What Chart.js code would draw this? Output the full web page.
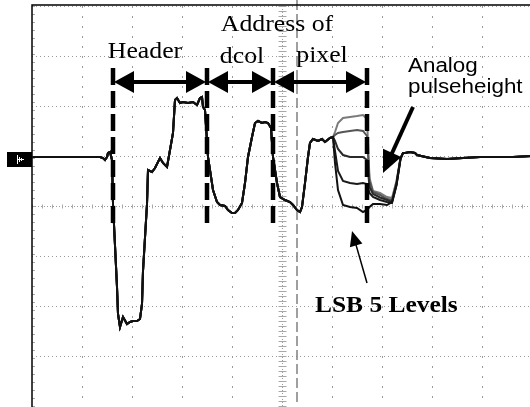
<!DOCTYPE html>
<html>
<head>
<meta charset="utf-8">
<script src="https://cdn.jsdelivr.net/npm/chart.js@4"></script>
<style>
	html, body { margin: 0; padding: 0; background: #fff; overflow: hidden; }
	#wrap { width: 540px; height: 407px; }
</style>
</head>
<body>
<div id="wrap"><canvas id="scopeChart" width="540" height="407"></canvas></div>
<script>
// time in divisions (0..10), signal in divisions (-4..4, 0 = centre line)
const startTime = [0, 0.56, 1.16, 1.26, 1.36, 1.42, 1.46, 1.50, 1.52, 1.56, 1.60,
	1.62, 1.70, 1.72, 1.76, 1.82, 1.90, 1.96, 2.02, 2.10, 2.16, 2.20, 2.22, 2.30,
	2.32, 2.40, 2.46, 2.56, 2.62, 2.70, 2.76, 2.82, 2.86, 2.90, 2.96, 3.02, 3.12,
	3.22, 3.30, 3.36, 3.40, 3.42, 3.46, 3.52, 3.62, 3.70, 3.76, 3.86, 3.92, 4.00,
	4.06, 4.12, 4.20, 4.26, 4.32, 4.40, 4.46, 4.52, 4.60, 4.66, 4.72, 4.78, 4.82,
	4.90, 4.96, 5.06, 5.16, 5.22, 5.30, 5.36, 5.40, 5.46, 5.52, 5.56, 5.62, 5.72,
	5.80, 5.86, 5.96, 6.02];
const startVolt = [0.98, 0.98, 0.98, 0.98, 0.98, 0.96, 0.92, 0.98, 1.06, 1.08, 0.92,
	0.04, -1.62, -2.16, -2.42, -2.22, -2.36, -2.32, -2.30, -2.30, -2.26, -1.96, -1.30, 0.04,
	0.72, 0.68, 0.76, 0.96, 0.86, 0.78, 1.12, 1.46, 2.12, 2.16, 2.06, 2.08, 2.06,
	2.08, 2.02, 2.16, 2.18, 1.98, 1.92, 0.98, 0.32, 0.08, 0.02, 0.00, -0.08, -0.14,
	-0.14, -0.08, 0.06, 0.46, 0.98, 1.38, 1.66, 1.70, 1.66, 1.68, 1.66, 1.56, 0.98,
	0.46, 0.18, 0.12, 0.08, 0.02, -0.08, -0.12, -0.02, 0.46, 0.98, 1.26, 1.34, 1.30,
	1.34, 1.28, 1.36, 1.38];

// the five analog levels of the last pixel
const fanTime = [6.06, 6.12, 6.22, 6.36, 6.50, 6.62, 6.70, 6.75, 6.82, 6.96, 7.10, 7.20, 7.29, 7.37];
const level1 = [1.48, 1.66, 1.76, 1.78, 1.80, 1.82, 1.74, 0.56, 0.30, 0.26, 0.18, 0.16, 0.50, 0.96];
const level2 = [1.42, 1.46, 1.48, 1.50, 1.52, 1.50, 1.40, 0.50, 0.28, 0.22, 0.14, 0.12, 0.48, 0.96];
const level3 = [1.30, 1.14, 1.02, 0.98, 0.98, 0.98, 0.92, 0.38, 0.24, 0.17, 0.12, 0.08, 0.44, 0.96];
const level4 = [1.10, 0.70, 0.50, 0.46, 0.44, 0.46, 0.44, 0.26, 0.18, 0.12, 0.08, 0.06, 0.42, 0.94];
const level5 = [0.86, 0.32, 0.02, -0.02, -0.04, -0.12, -0.08, -0.02, 0.04, 0.04, 0.02, 0.08, 0.42, 0.94];

const endTime = [7.42, 7.46, 7.56, 7.66, 7.70, 7.96, 8.30, 8.62, 8.96, 9.62, 10.0];
const endVolt = [1.06, 1.06, 1.08, 1.06, 1.02, 0.96, 0.94, 0.96, 0.98, 0.98, 1.00];

// segment boundaries (time, divisions) and their labels
const segmentEdges = [1.62, 3.50, 4.82, 6.70];
const segmentLabels = ['Header', 'dcol', 'pixel'];

const levelColors = ['#7a7a7a', '#555555', '#2a2a2a', '#1a1a1a', '#111111'];

function buildTrace(levelVolt) {
	let pts = [];
	startTime.forEach((t, i) => pts.push({x: t, y: startVolt[i]}));
	fanTime.forEach((t, i) => pts.push({x: t, y: levelVolt[i]}));
	endTime.forEach((t, i) => pts.push({x: t, y: endVolt[i]}));
	return pts;
}

function arrowHead(ctx, fx, fy, tx, ty, len, width) {
	let a = Math.atan2(ty - fy, tx - fx);
	let bx = tx - len * Math.cos(a), by = ty - len * Math.sin(a);
	let nx = -Math.sin(a) * width / 2, ny = Math.cos(a) * width / 2;
	ctx.beginPath();
	ctx.moveTo(tx, ty);
	ctx.lineTo(bx + nx, by + ny);
	ctx.lineTo(bx - nx, by - ny);
	ctx.closePath();
	ctx.fill();
}

function stretchedText(ctx, text, x, y, font, sx, align) {
	ctx.save();
	ctx.translate(x, y);
	ctx.scale(sx, 1);
	ctx.font = font;
	ctx.textAlign = align;
	ctx.textBaseline = 'alphabetic';
	ctx.fillStyle = '#000';
	ctx.fillText(text, 0, 0);
	ctx.restore();
}

const scopeGrid = {
	id: 'scopeGrid',
	beforeDatasetsDraw(chart) {
		let ctx = chart.ctx, xs = chart.scales.x, ys = chart.scales.y, area = chart.chartArea;
		ctx.save();
		ctx.lineWidth = 1;
		ctx.strokeStyle = '#9a9a9a';
		// vertical grid
		ctx.setLineDash([2, 8]);
		for (let t = 1; t < 10; t++) {
			if (t == 5) continue;
			let px = Math.round(xs.getPixelForValue(t)) + 0.5;
			ctx.beginPath(); ctx.moveTo(px, area.top); ctx.lineTo(px, area.bottom); ctx.stroke();
		}
		// horizontal grid
		ctx.setLineDash([1, 3]);
		for (let v = -3; v <= 4; v++) {
			if (v == 0) continue;
			let py = Math.round(ys.getPixelForValue(v)) + 0.5;
			ctx.beginPath(); ctx.moveTo(area.left, py); ctx.lineTo(area.right, py); ctx.stroke();
		}
		// centre axes with minor ticks
		let cx = Math.round(xs.getPixelForValue(5)) + 0.5;
		let cy = Math.round(ys.getPixelForValue(0)) + 0.5;
		ctx.setLineDash([1, 2]);
		ctx.beginPath(); ctx.moveTo(cx, area.top); ctx.lineTo(cx, area.bottom); ctx.stroke();
		ctx.beginPath(); ctx.moveTo(area.left, cy); ctx.lineTo(area.right, cy); ctx.stroke();
		ctx.setLineDash([]);
		ctx.strokeStyle = '#a8a8a8';
		for (let v = -4; v <= 4.001; v += 0.1) {
			let py = Math.round(ys.getPixelForValue(v)) + 0.5;
			ctx.beginPath(); ctx.moveTo(cx - 4, py); ctx.lineTo(cx + 4, py); ctx.stroke();
		}
		for (let t = 0; t <= 10.001; t += 0.2) {
			let px = Math.round(xs.getPixelForValue(t)) + 0.5;
			ctx.beginPath(); ctx.moveTo(px, cy - 2); ctx.lineTo(px, cy + 2); ctx.stroke();
			ctx.beginPath(); ctx.moveTo(area.left, Math.round(ys.getPixelForValue(4 - t * 0.8)) + 0.5);
			ctx.lineTo(area.left + 3, Math.round(ys.getPixelForValue(4 - t * 0.8)) + 0.5); ctx.stroke();
		}
		// cursor line
		ctx.strokeStyle = '#808080';
		ctx.lineWidth = 1.5;
		ctx.setLineDash([10, 4]);
		let kx = xs.getPixelForValue(5.30);
		ctx.beginPath(); ctx.moveTo(kx, 0); ctx.lineTo(kx, area.bottom); ctx.stroke();
		// frame
		ctx.setLineDash([]);
		ctx.strokeStyle = '#000';
		ctx.lineWidth = 1.5;
		ctx.beginPath();
		ctx.moveTo(area.left, area.bottom + 2);
		ctx.lineTo(area.left, area.top - 1);
		ctx.lineTo(area.right, area.top - 1);
		ctx.stroke();
		// ground marker
		let gy = ys.getPixelForValue(1);
		ctx.fillStyle = '#000';
		ctx.fillRect(7, gy - 4, area.left - 7, 15);
		ctx.strokeStyle = '#fff';
		ctx.lineWidth = 1;
		ctx.beginPath();
		ctx.moveTo(17.5, gy - 1); ctx.lineTo(17.5, gy + 8);
		ctx.moveTo(19.5, gy + 1); ctx.lineTo(19.5, gy + 6);
		ctx.moveTo(21.5, gy + 2); ctx.lineTo(21.5, gy + 5);
		ctx.moveTo(17.5, gy + 3.5); ctx.lineTo(24, gy + 3.5);
		ctx.stroke();
		ctx.restore();
	},
	afterDatasetsDraw(chart) {
		let ctx = chart.ctx, xs = chart.scales.x, ys = chart.scales.y;
		ctx.save();
		// dashed boundaries
		ctx.strokeStyle = '#000';
		ctx.lineWidth = 4.5;
		ctx.setLineDash([17, 6]);
		segmentEdges.forEach(t => {
			let px = xs.getPixelForValue(t);
			ctx.beginPath();
			ctx.moveTo(px, ys.getPixelForValue(2.76));
			ctx.lineTo(px, ys.getPixelForValue(-0.44));
			ctx.stroke();
		});
		ctx.setLineDash([]);
		// double arrows
		let ay = ys.getPixelForValue(2.48);
		ctx.fillStyle = '#000';
		ctx.lineWidth = 4;
		for (let i = 0; i < segmentEdges.length - 1; i++) {
			let a = xs.getPixelForValue(segmentEdges[i]) + 1;
			let b = xs.getPixelForValue(segmentEdges[i + 1]) - 1;
			ctx.beginPath(); ctx.moveTo(a + 10, ay); ctx.lineTo(b - 10, ay); ctx.stroke();
			arrowHead(ctx, b, ay, a, ay, 20, 22);
			arrowHead(ctx, a, ay, b, ay, 20, 22);
		}
		// labels
		let serif = '23px "Liberation Serif", "Times New Roman", serif';
		let mid = i => (xs.getPixelForValue(segmentEdges[i]) + xs.getPixelForValue(segmentEdges[i + 1])) / 2;
		stretchedText(ctx, segmentLabels[0], mid(0) - 15, ys.getPixelForValue(2.96), serif, 1.12, 'center');
		stretchedText(ctx, segmentLabels[1], mid(1) + 2, ys.getPixelForValue(2.86), serif, 1.12, 'center');
		stretchedText(ctx, segmentLabels[2], mid(2) + 2, ys.getPixelForValue(2.88), serif, 1.12, 'center');
		stretchedText(ctx, 'Address of', xs.getPixelForValue(4.90), ys.getPixelForValue(3.50), serif, 1.12, 'center');
		let sans = '20px "Liberation Sans", Arial, sans-serif';
		stretchedText(ctx, 'Analog', xs.getPixelForValue(7.52), ys.getPixelForValue(2.68), sans, 1.12, 'left');
		stretchedText(ctx, 'pulseheight', xs.getPixelForValue(7.52), ys.getPixelForValue(2.26), sans, 1.12, 'left');
		stretchedText(ctx, 'LSB 5 Levels', xs.getPixelForValue(5.66), ys.getPixelForValue(-2.12),
			'bold 24px "Liberation Serif", "Times New Roman", serif', 1.06, 'left');
		// pointer arrows
		let p0x = xs.getPixelForValue(7.62), p0y = ys.getPixelForValue(1.98);
		let p1x = xs.getPixelForValue(7.02), p1y = ys.getPixelForValue(0.66);
		ctx.lineWidth = 4;
		ctx.beginPath(); ctx.moveTo(p0x, p0y);
		ctx.lineTo(p1x + (p0x - p1x) * 0.25, p1y + (p0y - p1y) * 0.25); ctx.stroke();
		arrowHead(ctx, p0x, p0y, p1x, p1y, 22, 20);
		let q0x = xs.getPixelForValue(6.70), q0y = ys.getPixelForValue(-1.54);
		let q1x = xs.getPixelForValue(6.40), q1y = ys.getPixelForValue(-0.50);
		ctx.lineWidth = 1.5;
		ctx.beginPath(); ctx.moveTo(q0x, q0y);
		ctx.lineTo(q1x + (q0x - q1x) * 0.2, q1y + (q0y - q1y) * 0.2); ctx.stroke();
		arrowHead(ctx, q0x, q0y, q1x, q1y, 15, 13);
		ctx.restore();
	}
};

const levels = [level1, level2, level3, level4, level5];
// darkest trace on top: lower order is drawn last
const datasets = levels.map((lv, i) => ({
	data: buildTrace(lv),
	borderColor: levelColors[i],
	borderWidth: 2,
	pointRadius: 0,
	tension: 0,
	fill: false,
	order: levels.length - 1 - i
}));

new Chart(document.getElementById('scopeChart'), {
	type: 'scatter',
	data: { datasets: datasets },
	options: {
		responsive: false,
		animation: false,
		devicePixelRatio: 1,
		showLine: true,
		layout: { padding: { left: 32, right: 8, top: 6, bottom: 1 } },
		plugins: { legend: { display: false }, tooltip: { enabled: false } },
		scales: {
			x: { type: 'linear', min: 0, max: 10, display: false },
			y: { type: 'linear', min: -4, max: 4, display: false }
		}
	},
	plugins: [scopeGrid]
});
</script>
</body>
</html>
